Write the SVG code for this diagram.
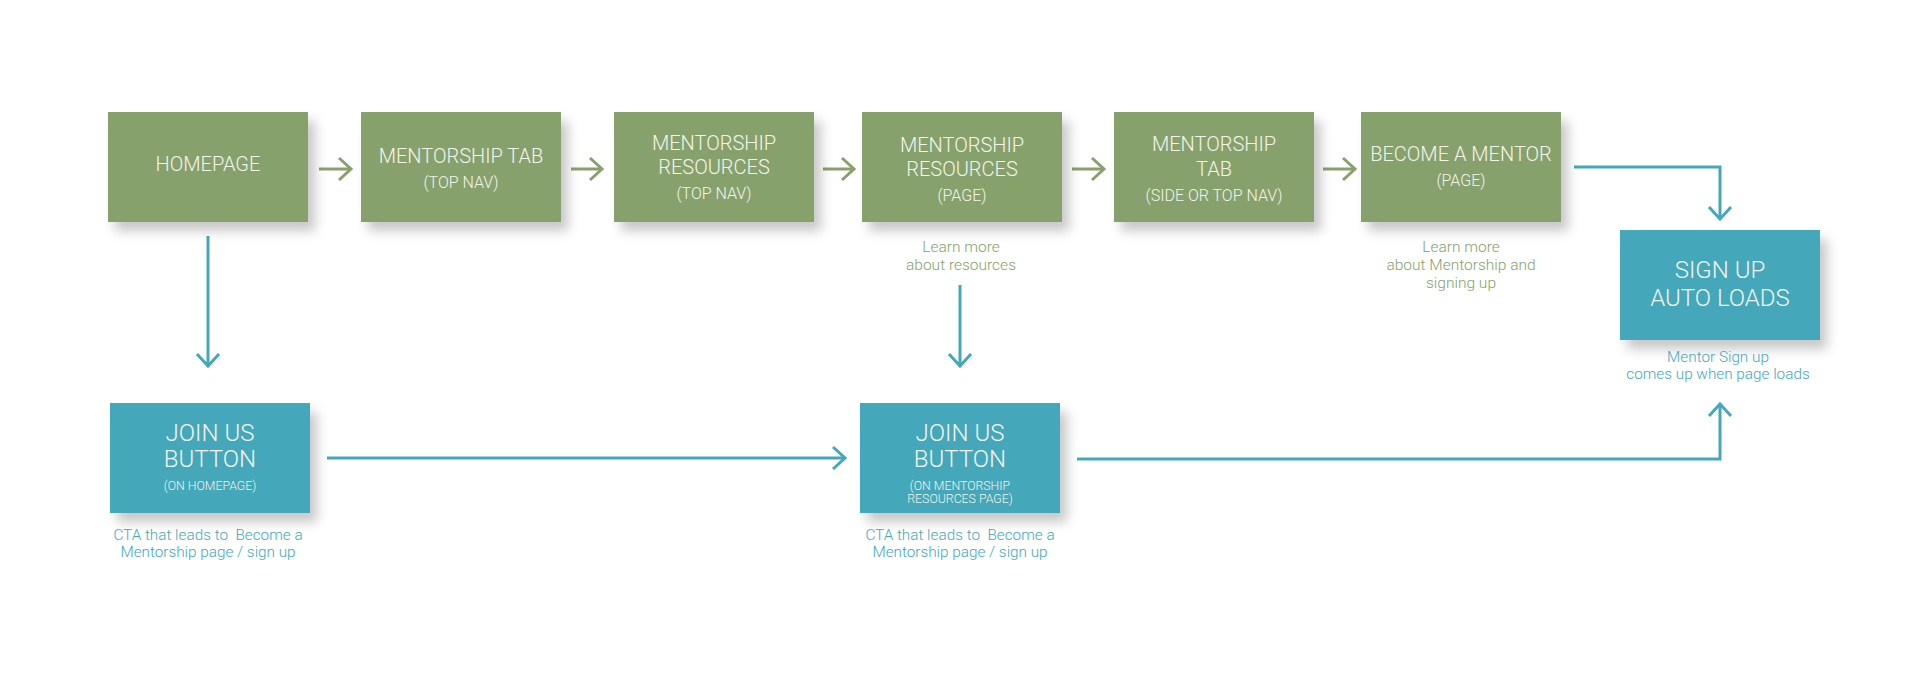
<svg xmlns="http://www.w3.org/2000/svg" width="1920" height="691" viewBox="0 0 1920 691">
<style>
  text { font-family: Roboto, "Liberation Sans", sans-serif; font-weight: 300; text-anchor: middle; }
  .box-g { fill: #86a16c; }
  .box-t { fill: #44a7ba; }
  .lbl { fill: #f4f4ec; font-size: 20px; }
  .sub { fill: #f4f4ec; font-size: 16px; }
  .big { fill: #f4f4ec; font-size: 24px; }
  .tiny { fill: #f4f4ec; font-size: 12.3px; }
  .cap-g { fill: #86a16c; font-size: 15.5px; }
  .cap-t { fill: #44a7ba; font-size: 15.3px; }
  .con-g { fill: none; stroke: #86a16c; stroke-width: 3; }
  .con-t { fill: none; stroke: #44a7ba; stroke-width: 3; }
</style>
<defs>
  <filter id="shadow" x="-20%" y="-20%" width="150%" height="160%">
    <feDropShadow dx="7" dy="9" stdDeviation="6" flood-color="#000" flood-opacity="0.22"/>
  </filter>
  <marker id="ah-g" markerUnits="userSpaceOnUse" viewBox="-16 -14 18 28" markerWidth="18" markerHeight="28" refX="0" refY="0" orient="auto" overflow="visible">
    <path d="M-12,-11 L0,0 L-12,11" fill="none" stroke="#86a16c" stroke-width="3"/>
  </marker>
  <marker id="ah-t" markerUnits="userSpaceOnUse" viewBox="-16 -14 18 28" markerWidth="18" markerHeight="28" refX="0" refY="0" orient="auto" overflow="visible">
    <path d="M-12,-11 L0,0 L-12,11" fill="none" stroke="#44a7ba" stroke-width="3"/>
  </marker>
</defs>
<rect width="1920" height="691" fill="#ffffff"/>

<g id="connectors">
  <path class="con-g" d="M319,169 H351" marker-end="url(#ah-g)"/>
  <path class="con-g" d="M571,169 H602" marker-end="url(#ah-g)"/>
  <path class="con-g" d="M823,169 H854" marker-end="url(#ah-g)"/>
  <path class="con-g" d="M1072,169 H1104" marker-end="url(#ah-g)"/>
  <path class="con-g" d="M1323,169 H1355" marker-end="url(#ah-g)"/>
  <path class="con-t" d="M208,236 V366" marker-end="url(#ah-t)"/>
  <path class="con-t" d="M960,285 V366" marker-end="url(#ah-t)"/>
  <path class="con-t" d="M327,458 H845" marker-end="url(#ah-t)"/>
  <path class="con-t" d="M1077,459 H1720 V404" marker-end="url(#ah-t)"/>
  <path class="con-t" d="M1574,167 H1720 V219" marker-end="url(#ah-t)"/>
</g>

<g id="homepage">
  <rect class="box-g" x="108" y="112" width="200" height="110" filter="url(#shadow)"/>
  <text class="lbl" x="208" y="171">HOMEPAGE</text>
</g>
<g id="mentorship-tab-top">
  <rect class="box-g" x="361" y="112" width="200" height="110" filter="url(#shadow)"/>
  <text class="lbl" x="461" y="163">MENTORSHIP TAB</text>
  <text class="sub" x="461" y="188">(TOP NAV)</text>
</g>
<g id="resources-top-nav">
  <rect class="box-g" x="614" y="112" width="200" height="110" filter="url(#shadow)"/>
  <text class="lbl" x="714" y="150">MENTORSHIP</text>
  <text class="lbl" x="714" y="174">RESOURCES</text>
  <text class="sub" x="714" y="199">(TOP NAV)</text>
</g>
<g id="resources-page">
  <rect class="box-g" x="862" y="112" width="200" height="110" filter="url(#shadow)"/>
  <text class="lbl" x="962" y="152">MENTORSHIP</text>
  <text class="lbl" x="962" y="176">RESOURCES</text>
  <text class="sub" x="962" y="201">(PAGE)</text>
  <text class="cap-g" x="961" y="252">Learn more</text>
  <text class="cap-g" x="961" y="270">about resources</text>
</g>
<g id="mentorship-tab-side">
  <rect class="box-g" x="1114" y="112" width="200" height="110" filter="url(#shadow)"/>
  <text class="lbl" x="1214" y="151">MENTORSHIP</text>
  <text class="lbl" x="1214" y="176">TAB</text>
  <text class="sub" x="1214" y="201">(SIDE OR TOP NAV)</text>
</g>
<g id="become-mentor">
  <rect class="box-g" x="1361" y="112" width="200" height="110" filter="url(#shadow)"/>
  <text class="lbl" x="1461" y="161">BECOME A MENTOR</text>
  <text class="sub" x="1461" y="186">(PAGE)</text>
  <text class="cap-g" x="1461" y="252">Learn more</text>
  <text class="cap-g" x="1461" y="270">about Mentorship and</text>
  <text class="cap-g" x="1461" y="288">signing up</text>
</g>
<g id="sign-up">
  <rect class="box-t" x="1620" y="230" width="200" height="110" filter="url(#shadow)"/>
  <text class="big" x="1720" y="278">SIGN UP</text>
  <text class="big" x="1720" y="306">AUTO LOADS</text>
  <text class="cap-t" x="1718" y="362">Mentor Sign up</text>
  <text class="cap-t" x="1718" y="379">comes up when page loads</text>
</g>
<g id="join-us-home">
  <rect class="box-t" x="110" y="403" width="200" height="110" filter="url(#shadow)"/>
  <text class="big" x="210" y="441">JOIN US</text>
  <text class="big" x="210" y="467">BUTTON</text>
  <text class="tiny" x="210" y="490">(ON HOMEPAGE)</text>
  <text class="cap-t" x="208" y="540" xml:space="preserve">CTA that leads to  Become a</text>
  <text class="cap-t" x="208" y="557">Mentorship page / sign up</text>
</g>
<g id="join-us-resources">
  <rect class="box-t" x="860" y="403" width="200" height="110" filter="url(#shadow)"/>
  <text class="big" x="960" y="441">JOIN US</text>
  <text class="big" x="960" y="467">BUTTON</text>
  <text class="tiny" x="960" y="490">(ON MENTORSHIP</text>
  <text class="tiny" x="960" y="503">RESOURCES PAGE)</text>
  <text class="cap-t" x="960" y="540" xml:space="preserve">CTA that leads to  Become a</text>
  <text class="cap-t" x="960" y="557">Mentorship page / sign up</text>
</g>
</svg>
